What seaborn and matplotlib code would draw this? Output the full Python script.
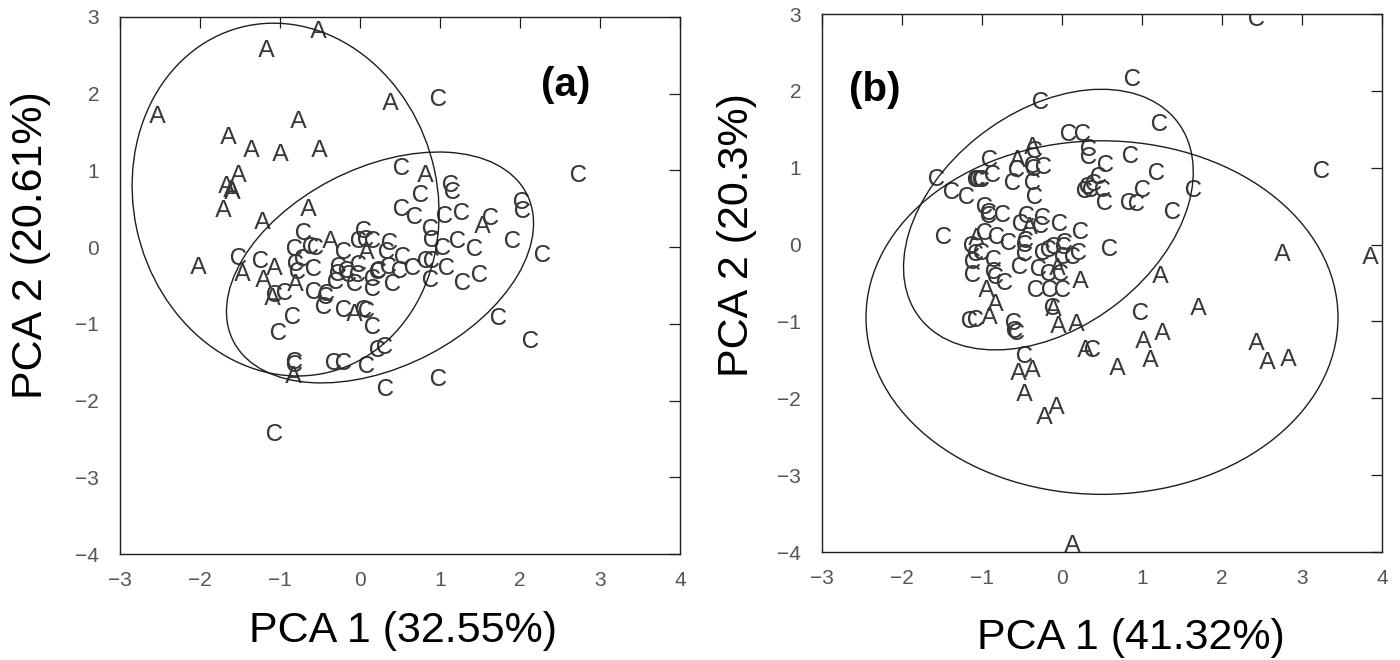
import numpy as np
import pandas as pd
import matplotlib
matplotlib.use("Agg")
import matplotlib.pyplot as plt
from matplotlib.patches import Ellipse
import seaborn as sns

# ---------------- data: panel (a) ----------------
a_A_x = [-0.52, -1.17, -2.54, 0.37, -0.78, -1.65, -1.36, -1.00, -0.51, -1.53, -1.67, -1.61, -1.60, -1.71,
         0.81, -0.65, -1.22, 1.52, -0.37, 0.08, -2.03, -1.47, -1.08, -1.21, -0.81, -1.10, -0.07, -0.84]
a_A_y = [2.84, 2.59, 1.74, 1.91, 1.67, 1.46, 1.29, 1.24, 1.29, 0.97, 0.82, 0.77, 0.74, 0.51,
         0.97, 0.52, 0.36, 0.30, 0.10, -0.04, -0.23, -0.33, -0.24, -0.40, -0.45, -0.64, -0.84, -1.65]

a_C_x = [0.98, 2.73, 0.51, 1.13, 1.15, 0.75, 2.01, 2.02, 0.51, 0.68, 1.05, 1.26, 1.62, 0.87, 0.89, 1.21,
         1.90, 1.03, 1.42, 2.27, 0.36, 0.33, 0.53, 0.81, 0.89, 0.65, 1.07, 0.35, 0.49, 1.49, 1.27, 0.40,
         0.87, 1.73, 2.13, 0.98, 0.31, -1.08, 0.30, 0.21, 0.08, -0.34, -0.21, -0.82, -0.82, -1.02, -0.85,
         0.15, 0.04, 0.08, -0.21, -0.46, -0.42, -0.44, -0.59, -0.95, -1.08, -0.59, -0.79, -0.81, -0.83,
         -0.73, -0.71, -0.62, -0.56, -1.25, -1.52, -0.21, -0.02, -0.17, -0.27, -0.29, -0.15, -0.04, -0.31,
         -0.08, 0.04, -0.03, 0.06, 0.15, 0.23, 0.21, 0.15, 0.15]
a_C_y = [1.96, 0.97, 1.06, 0.83, 0.75, 0.70, 0.62, 0.50, 0.52, 0.42, 0.43, 0.47, 0.41, 0.26, 0.12, 0.11,
         0.10, 0.02, 0.00, -0.07, 0.08, -0.04, -0.10, -0.16, -0.15, -0.24, -0.24, -0.23, -0.28, -0.34, -0.44, -0.46,
         -0.40, -0.90, -1.20, -1.69, -1.82, -2.41, -1.28, -1.31, -1.52, -1.49, -1.49, -1.47, -1.51, -1.09, -0.88,
         -1.02, -0.79, -0.80, -0.79, -0.75, -0.58, -0.63, -0.56, -0.57, -0.60, -0.26, -0.30, -0.19, 0.00,
         -0.13, 0.21, 0.03, 0.01, -0.15, -0.11, -0.04, -0.21, -0.28, -0.23, -0.32, -0.34, -0.34, -0.43,
         -0.45, 0.24, 0.11, 0.12, 0.11, -0.28, -0.30, -0.39, -0.52]

# confidence ellipses (centre x, centre y, width, height, angle in degrees)
a_ell_A = [-0.93, 0.62, 3.80, 4.63, 11.7]
a_ell_C = [0.25, -0.265, 4.14, 2.58, 28.6]

# ---------------- data: panel (b) ----------------
b_A_x = [-0.37, -0.56, -0.41, -1.07, -0.06, 0.23, -0.95, -0.84, -0.91, -0.11, -0.05, 0.18, 0.29, -0.55,
         -0.38, -0.47, -0.23, -0.07, 0.13, 1.22, 1.70, 1.01, 1.25, 1.10, 0.69, 2.42, 2.56, 2.82, 2.75, 3.85]
b_A_y = [1.30, 1.12, 0.25, 0.11, -0.28, -0.45, -0.56, -0.75, -0.92, -0.81, -1.03, -1.01, -1.35, -1.64,
         -1.60, -1.92, -2.22, -2.09, -3.88, -0.38, -0.80, -1.23, -1.12, -1.48, -1.58, -1.25, -1.50, -1.46, -0.10, -0.14]

b_C_x = [2.42, 0.88, -0.27, 1.21, 0.07, 0.25, 0.33, 0.33, 0.85, 1.17, 3.24, 0.54, 0.45, 0.39, 0.31, 0.27,
         0.35, 0.50, 0.52, 1.00, 1.64, 0.83, 0.93, 1.38, 0.59, 0.98, 0.38,
         -0.35, -0.38, -0.36, -0.24, -0.57, -0.62, -0.38, -0.35, -0.91, -0.87, -1.09, -1.06, -1.03, -1.01,
         -1.57, -1.39, -1.20, -0.98, -0.93, -0.92, -0.75, -0.45, -0.25, -0.53, -0.28, -0.04, 0.22, -1.49,
         -0.98, -0.82, -0.67, -0.46, -0.48, -1.14, -0.47, -1.09, -1.01, -0.25, -0.17, -0.11, 0.02, 0.01,
         0.00, 0.13, 0.20, -0.86, -1.12, -0.54, -1.13, -0.86, -0.84, -0.73, -0.30, -0.17, -0.03, -0.34,
         -0.16, 0.00, -1.16, -1.09, -0.61, -0.60, -0.58, -0.48, -0.12]
b_C_y = [2.96, 2.18, 1.88, 1.59, 1.47, 1.47, 1.27, 1.16, 1.18, 0.96, 0.98, 1.06, 0.91, 0.81, 0.77, 0.72,
         0.73, 0.73, 0.57, 0.73, 0.74, 0.57, 0.55, 0.45, -0.03, -0.86, -1.34,
         1.25, 1.05, 1.01, 1.03, 0.99, 0.83, 0.83, 0.64, 1.12, 0.93, 0.86, 0.86, 0.87, 0.86,
         0.88, 0.71, 0.64, 0.51, 0.44, 0.40, 0.41, 0.40, 0.37, 0.30, 0.27, 0.29, 0.19, 0.13,
         0.18, 0.13, 0.04, 0.07, 0.02, 0.01, -0.10, -0.10, -0.08, -0.08, -0.04, -0.01, 0.05, 0.00,
         -0.14, -0.14, -0.09, -0.17, -0.20, -0.26, -0.37, -0.33, -0.40, -0.47, -0.29, -0.36, -0.36, -0.56,
         -0.57, -0.57, -0.97, -0.96, -0.99, -1.10, -1.13, -1.43, -0.80]

b_ell_C = [-0.17, 0.325, 4.11, 2.78, 39.9]
b_ell_A = [0.50, -0.95, 5.90, 4.60, 0.0]

x_ticks = [-3, -2, -1, 0, 1, 2, 3, 4]
y_ticks = [-4, -3, -2, -1, 0, 1, 2, 3]
xlabel_a = "PCA 1 (32.55%)"
ylabel_a = "PCA 2 (20.61%)"
xlabel_b = "PCA 1 (41.32%)"
ylabel_b = "PCA 2 (20.3%)"

# ---------------- style ----------------
sns.set_theme(style="white")
plt.rcParams["font.family"] = ["Liberation Sans", "DejaVu Sans"]
plt.rcParams["mathtext.fontset"] = "custom"
plt.rcParams["mathtext.rm"] = "Liberation Sans"
plt.rcParams["axes.unicode_minus"] = True

INK = "#1e1e1e"
fig = plt.figure(figsize=(14, 6.6), dpi=100)
ax1 = fig.add_axes([120 / 1400, 1 - 554 / 660, 560 / 1400, 537 / 660])
ax2 = fig.add_axes([822 / 1400, 1 - 552 / 660, 560 / 1400, 538 / 660])


def draw(ax, Ax, Ay, Cx, Cy, ells):
    dA = pd.DataFrame({"x": Ax, "y": Ay})
    dC = pd.DataFrame({"x": Cx, "y": Cy})
    sns.scatterplot(data=dC, x="x", y="y", ax=ax, marker=r"$\mathrm{C}$", s=150,
                    color="#383838", linewidth=0)
    sns.scatterplot(data=dA, x="x", y="y", ax=ax, marker=r"$\mathrm{A}$", s=150,
                    color="#383838", linewidth=0)
    for cx, cy, w, h, ang in ells:
        ax.add_patch(Ellipse((cx, cy), w, h, angle=ang, fill=False, lw=1.0, ec=INK))
    ax.set_xlim(-3, 4)
    ax.set_ylim(-4, 3)
    ax.set_xticks(x_ticks)
    ax.set_yticks(y_ticks)
    ax.tick_params(axis="both", direction="in", length=8, width=0.9, color=INK,
                   top=True, right=True, labelsize=15, labelcolor="#555555")
    ax.tick_params(axis="x", pad=12)
    ax.tick_params(axis="y", pad=15)
    for sp in ax.spines.values():
        sp.set_color(INK)
        sp.set_linewidth(1.0)
        sp.set_visible(True)


draw(ax1, a_A_x, a_A_y, a_C_x, a_C_y, [a_ell_A, a_ell_C])
draw(ax2, b_A_x, b_A_y, b_C_x, b_C_y, [b_ell_C, b_ell_A])

ax1.set_xlabel(xlabel_a, fontsize=31, color="black")
ax1.set_ylabel(ylabel_a, fontsize=31, color="black")
ax1.xaxis.set_label_coords(0.505, -0.143)
ax1.yaxis.set_label_coords(-0.159, 0.575)
ax1.xaxis.label.set_va("center")
ax1.yaxis.label.set_va("center")

ax2.set_xlabel(xlabel_b, fontsize=31, color="black")
ax2.set_ylabel(ylabel_b, fontsize=31, color="black")
ax2.xaxis.set_label_coords(0.552, -0.160)
ax2.yaxis.set_label_coords(-0.152, 0.589)
ax2.xaxis.label.set_va("center")
ax2.yaxis.label.set_va("center")

ax1.text(0.796, 0.873, "(a)", transform=ax1.transAxes, fontsize=29, fontweight="bold",
         ha="center", va="center", color="black")
ax2.text(0.095, 0.859, "(b)", transform=ax2.transAxes, fontsize=29, fontweight="bold",
         ha="center", va="center", color="black")

fig.savefig("out.png", dpi=100, facecolor="white")
